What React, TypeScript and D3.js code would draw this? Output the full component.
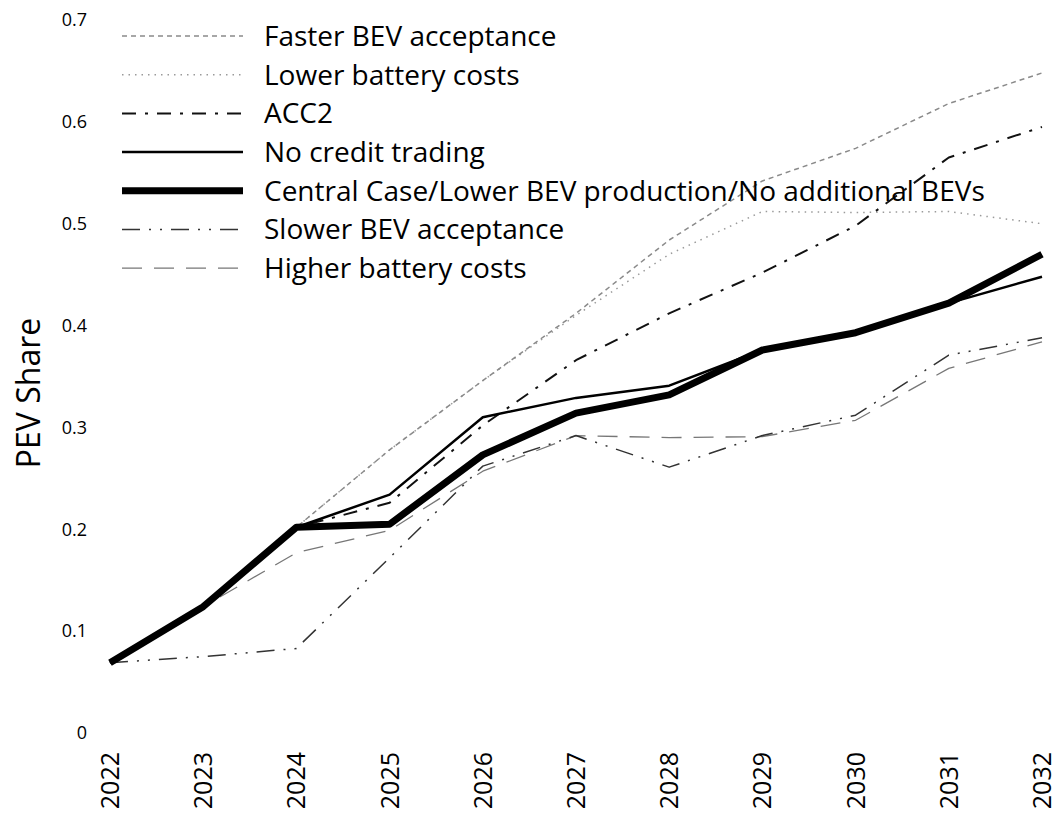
import React from "react";
import * as d3 from "d3";

const years = [2022, 2023, 2024, 2025, 2026, 2027, 2028, 2029, 2030, 2031, 2032];
const fasterBEV = [0.069, 0.124, 0.202, 0.278, 0.346, 0.412, 0.484, 0.542, 0.574, 0.618, 0.648];
const lowerBattery = [0.069, 0.124, 0.202, 0.278, 0.346, 0.41, 0.47, 0.512, 0.511, 0.512, 0.5];
const acc2 = [0.069, 0.124, 0.202, 0.226, 0.302, 0.366, 0.412, 0.452, 0.498, 0.565, 0.595];
const noCredit = [0.069, 0.124, 0.202, 0.234, 0.31, 0.329, 0.341, 0.376, 0.393, 0.422, 0.448];
const central = [0.069, 0.124, 0.202, 0.205, 0.273, 0.314, 0.332, 0.376, 0.393, 0.422, 0.47];
const slowerBEV = [0.069, 0.075, 0.083, 0.172, 0.262, 0.292, 0.261, 0.292, 0.312, 0.371, 0.388];
const higherBattery = [0.069, 0.124, 0.177, 0.199, 0.257, 0.292, 0.29, 0.291, 0.307, 0.358, 0.384];
const yTicks = [0, 0.1, 0.2, 0.3, 0.4, 0.5, 0.6, 0.7];

const seriesNames = [
  "Faster BEV acceptance",
  "Lower battery costs",
  "ACC2",
  "No credit trading",
  "Central Case/Lower BEV production/No additional BEVs",
  "Slower BEV acceptance",
  "Higher battery costs",
];
const seriesValues = [fasterBEV, lowerBattery, acc2, noCredit, central, slowerBEV, higherBattery];

const styles = [
  { stroke: "#8a8a8a", width: 1.5, dash: "5,4" },
  { stroke: "#9a9a9a", width: 1.5, dash: "1.5,5" },
  { stroke: "#111", width: 2, dash: "14,9,3,9" },
  { stroke: "#000", width: 2.5, dash: "" },
  { stroke: "#000", width: 7, dash: "" },
  { stroke: "#333", width: 1.5, dash: "18,9,2,9,2,9" },
  { stroke: "#777", width: 1.3, dash: "20,12" },
];

const W = 1060;
const H = 820;

export default function App() {
  const x = d3.scaleLinear().domain([2022, 2032]).range([110, 1042]);
  const y = d3.scaleLinear().domain([0, 0.7]).range([733, 20]);
  const line = d3
    .line<number>()
    .x((_, i) => x(years[i]))
    .y((d) => y(d));

  const drawOrder = [6, 5, 1, 0, 2, 4, 3];
  const legendY0 = 36;
  const legendStep = 38.7;

  return (
    <svg
      width={W}
      height={H}
      style={{ position: "absolute", left: 0, top: 0, background: "#fff" }}
      fontFamily="'Open Sans', sans-serif"
    >
      <rect x={0} y={0} width={W} height={H} fill="#fff" />
      {yTicks.map((t) => (
        <text key={t} x={87} y={y(t)} dy="0.35em" textAnchor="end" fontSize={18} fill="#000">
          {t === 0 ? "0" : d3.format(".1f")(t)}
        </text>
      ))}
      {years.map((yr) => (
        <text
          key={yr}
          transform={`translate(${x(yr)},752) rotate(-90)`}
          dy="0.36em"
          textAnchor="end"
          fontSize={25}
          fill="#000"
        >
          {yr}
        </text>
      ))}
      <text transform="translate(28,393) rotate(-90)" dy="0.36em" textAnchor="middle" fontSize={32} fill="#000">
        PEV Share
      </text>
      {drawOrder.map((i) => (
        <path
          key={i}
          d={line(seriesValues[i]) || ""}
          fill="none"
          stroke={styles[i].stroke}
          strokeWidth={styles[i].width}
          strokeDasharray={styles[i].dash}
          strokeLinejoin="round"
        />
      ))}
      {seriesNames.map((name, i) => {
        const ly = legendY0 + i * legendStep;
        return (
          <g key={name}>
            <line
              x1={122}
              x2={243}
              y1={ly}
              y2={ly}
              stroke={styles[i].stroke}
              strokeWidth={styles[i].width}
              strokeDasharray={styles[i].dash}
            />
            <text x={264} y={ly} dy="0.35em" fontSize={28} fill="#000">
              {name}
            </text>
          </g>
        );
      })}
    </svg>
  );
}
